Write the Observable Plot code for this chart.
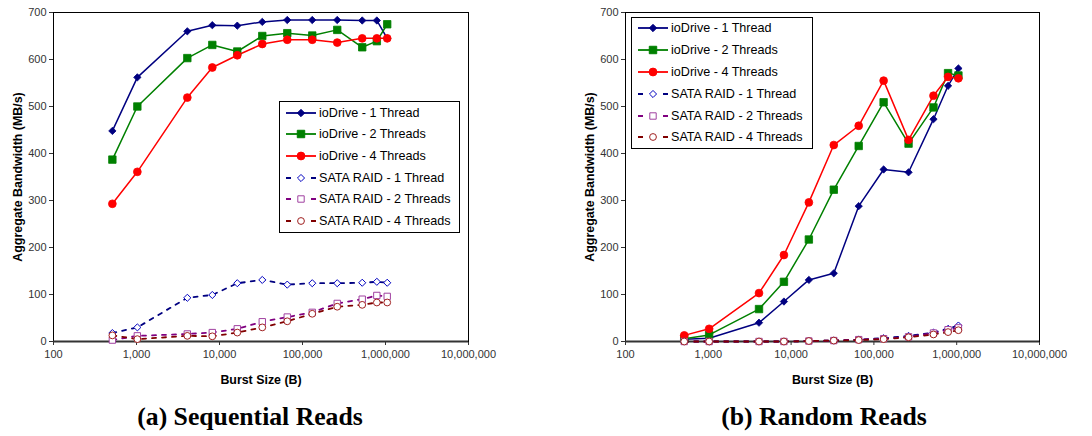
<!DOCTYPE html>
<html>
<head>
<meta charset="utf-8">
<script src="https://cdn.jsdelivr.net/npm/d3@7"></script>
<script src="https://cdn.jsdelivr.net/npm/@observablehq/plot@0.6"></script>
<style>
  html, body { margin: 0; padding: 0; background: #fff; }
  #root { position: relative; width: 1092px; height: 436px; overflow: hidden; font-family: "Liberation Sans", Arial, sans-serif; }
  .panel { position: absolute; top: 0; width: 546px; height: 436px; }
  .panel > svg { position: absolute; left: 0; top: 0; overflow: visible; }
  .caption { position: absolute; top: 402px; width: 546px; text-align: center; font-family: "Liberation Serif", "Times New Roman", serif; font-weight: bold; font-size: 25.7px; color: #000; }
  .legend { position: absolute; border: 1px solid #000; background: #fff; box-sizing: border-box; }
  .legend .row { position: absolute; left: 0; height: 20px; display: flex; align-items: center; }
  .legend .row svg { display: block; flex: none; }
  .legend .row span { font-size: 12.6px; color: #000; margin-left: 1px; white-space: nowrap; }
  [aria-label="x-axis label"] text, [aria-label="y-axis label"] text { font-weight: bold; font-size: 12.4px; fill: #000; }
</style>
</head>
<body>
<div id="root"></div>
<script>
// Burst sizes (B)
const sizes = [512, 1024, 4096, 8192, 16384, 32768, 65536, 131072, 262144, 524288, 786432, 1048576];

// (a) Sequential Reads, MB/s
const seqIo1 = [448, 562, 660, 673, 672, 680, 684, 684, 684, 683, 683, 645];
const seqIo2 = [387, 500, 603, 631, 617, 650, 656, 651, 663, 626, 639, 675];
const seqIo4 = [293, 361, 519, 583, 609, 633, 642, 642, 636, 645, 645, 645];
const seqSata1 = [18, 30, 93, 99, 124, 131, 121, 124, 124, 125, 127, 125];
const seqSata2 = [3, 12, 16, 19, 27, 42, 52, 62, 81, 90, 98, 96];
const seqSata4 = [13, 5, 12, 11, 19, 30, 43, 59, 74, 78, 83, 83];

// (b) Random Reads, MB/s
const rndIo1 = [5, 7, 40, 85, 131, 145, 288, 366, 360, 473, 544, 581];
const rndIo2 = [6, 14, 69, 127, 217, 323, 416, 509, 421, 498, 571, 566];
const rndIo4 = [13, 27, 103, 184, 296, 418, 459, 555, 429, 523, 563, 560];
const rndSata1 = [0, 0, 0, 0, 1, 2, 4, 7, 12, 19, 27, 34];
const rndSata2 = [0, 0, 0, 0, 1, 2, 4, 6, 10, 18, 25, 29];
const rndSata4 = [0, 0, 0, 0, 1, 2, 3, 5, 9, 15, 20, 24];

const seriesNames = ["ioDrive - 1 Thread", "ioDrive - 2 Threads", "ioDrive - 4 Threads",
                     "SATA RAID - 1 Thread", "SATA RAID - 2 Threads", "SATA RAID - 4 Threads"];
const xTicks = [100, 1000, 10000, 100000, 1000000, 10000000];
const yTicks = [0, 100, 200, 300, 400, 500, 600, 700];
const captions = ["(a) Sequential Reads", "(b) Random Reads"];
const xLabel = "Burst Size (B)";
const yLabel = "Aggregate Bandwidth (MB/s)";

// styles per series
const styles = [
  {line: "#000080", stroke: "#000080", fill: "#000080", symbol: "diamond2", r: 3.3, dash: null},
  {line: "#008000", stroke: "#008000", fill: "#008000", symbol: "square", r: 4.2, dash: null},
  {line: "#ff0000", stroke: "#ff0000", fill: "#ff0000", symbol: "circle", r: 3.9, dash: null},
  {line: "#000080", stroke: "#0000c0", fill: "#fff", symbol: "diamond2", r: 3.2, dash: "4,6"},
  {line: "#800080", stroke: "#a040a0", fill: "#fff", symbol: "square", r: 3.6, dash: "4,6"},
  {line: "#800000", stroke: "#a02020", fill: "#fff", symbol: "circle", r: 3.4, dash: "4,6"}
];

function toRows(arrays) {
  return arrays.map((vals, i) => vals.map((v, j) => ({series: seriesNames[i], idx: i, x: sizes[j], y: v})));
}

function chart(arrays, ml, mr) {
  const rows = toRows(arrays);
  const marks = [
    Plot.axisX({ticks: xTicks, tickFormat: d3.format(","), tickSize: 4, tickPadding: 5, stroke: "#333",
      label: xLabel, labelAnchor: "center", labelArrow: "none", labelOffset: 42}),
    Plot.axisY({ticks: yTicks, tickSize: 4, tickPadding: 3, stroke: "#333",
      label: yLabel, labelAnchor: "center", labelArrow: "none", labelOffset: 40}),
    Plot.frame({stroke: "#000", strokeWidth: 1}),
    Plot.ruleY([0], {stroke: "#333", strokeWidth: 2})
  ];
  rows.forEach((data, i) => {
    const s = styles[i];
    marks.push(Plot.line(data, {x: "x", y: "y", stroke: s.line, strokeWidth: s.dash ? 1.8 : 1.5,
      strokeDasharray: s.dash || undefined}));
  });
  rows.forEach((data, i) => {
    const s = styles[i];
    marks.push(Plot.dot(data, {x: "x", y: "y", symbol: () => s.symbol, r: s.r, fill: s.fill, stroke: s.stroke,
      strokeWidth: s.dash ? 1 : 0.8}));
  });
  return Plot.plot({
    width: 546, height: 395,
    marginLeft: ml, marginRight: mr, marginTop: 12, marginBottom: 54,
    style: {fontFamily: "'Liberation Sans', Arial, sans-serif", fontSize: "11px", color: "#333", background: "transparent"},
    x: {type: "log", domain: [100, 10000000]},
    y: {domain: [0, 700]},
    symbol: {type: "identity"},
    marks
  });
}

function legend(left, top, width, height, rowTops) {
  const div = document.createElement("div");
  div.className = "legend";
  Object.assign(div.style, {left: left + "px", top: top + "px", width: width + "px", height: height + "px"});
  seriesNames.forEach((name, i) => {
    const s = styles[i];
    const row = document.createElement("div");
    row.className = "row";
    row.style.top = (rowTops[i] - 11) + "px";
    const ns = "http://www.w3.org/2000/svg";
    const svg = document.createElementNS(ns, "svg");
    svg.setAttribute("width", 38); svg.setAttribute("height", 20);
    const line = document.createElementNS(ns, "line");
    line.setAttribute("x1", 6); line.setAttribute("x2", 36); line.setAttribute("y1", 10); line.setAttribute("y2", 10);
    line.setAttribute("stroke", s.line); line.setAttribute("stroke-width", 1.8);
    if (s.dash) line.setAttribute("stroke-dasharray", "5,20");
    svg.appendChild(line);
    const sym = d3.symbol(s.symbol === "diamond2" ? d3.symbolDiamond2 : s.symbol === "square" ? d3.symbolSquare : d3.symbolCircle,
      Math.PI * s.r * s.r)();
    const p = document.createElementNS(ns, "path");
    p.setAttribute("d", sym); p.setAttribute("transform", "translate(21,10)");
    p.setAttribute("fill", s.fill); p.setAttribute("stroke", s.stroke); p.setAttribute("stroke-width", 1);
    svg.appendChild(p);
    row.appendChild(svg);
    const t = document.createElement("span");
    t.textContent = name;
    row.appendChild(t);
    div.appendChild(row);
  });
  return div;
}

const root = document.getElementById("root");
const panels = [
  {arrays: [seqIo1, seqIo2, seqIo4, seqSata1, seqSata2, seqSata4], ml: 53, mr: 78, leg: [279, 101, 181, 132, [12, 33, 55, 77, 98, 120]]},
  {arrays: [rndIo1, rndIo2, rndIo4, rndSata1, rndSata2, rndSata4], ml: 79, mr: 53, leg: [85, 17, 182, 132, [11, 33, 55, 77, 99, 120]]}
];
panels.forEach((p, k) => {
  const panel = document.createElement("div");
  panel.className = "panel";
  panel.style.left = (k * 546) + "px";
  panel.appendChild(chart(p.arrays, p.ml, p.mr));
  panel.appendChild(legend(...p.leg));
  const cap = document.createElement("div");
  cap.className = "caption";
  cap.style.left = (k === 0 ? -23 : 5) + "px";
  cap.textContent = captions[k];
  panel.appendChild(cap);
  root.appendChild(panel);
});
</script>
</body>
</html>
